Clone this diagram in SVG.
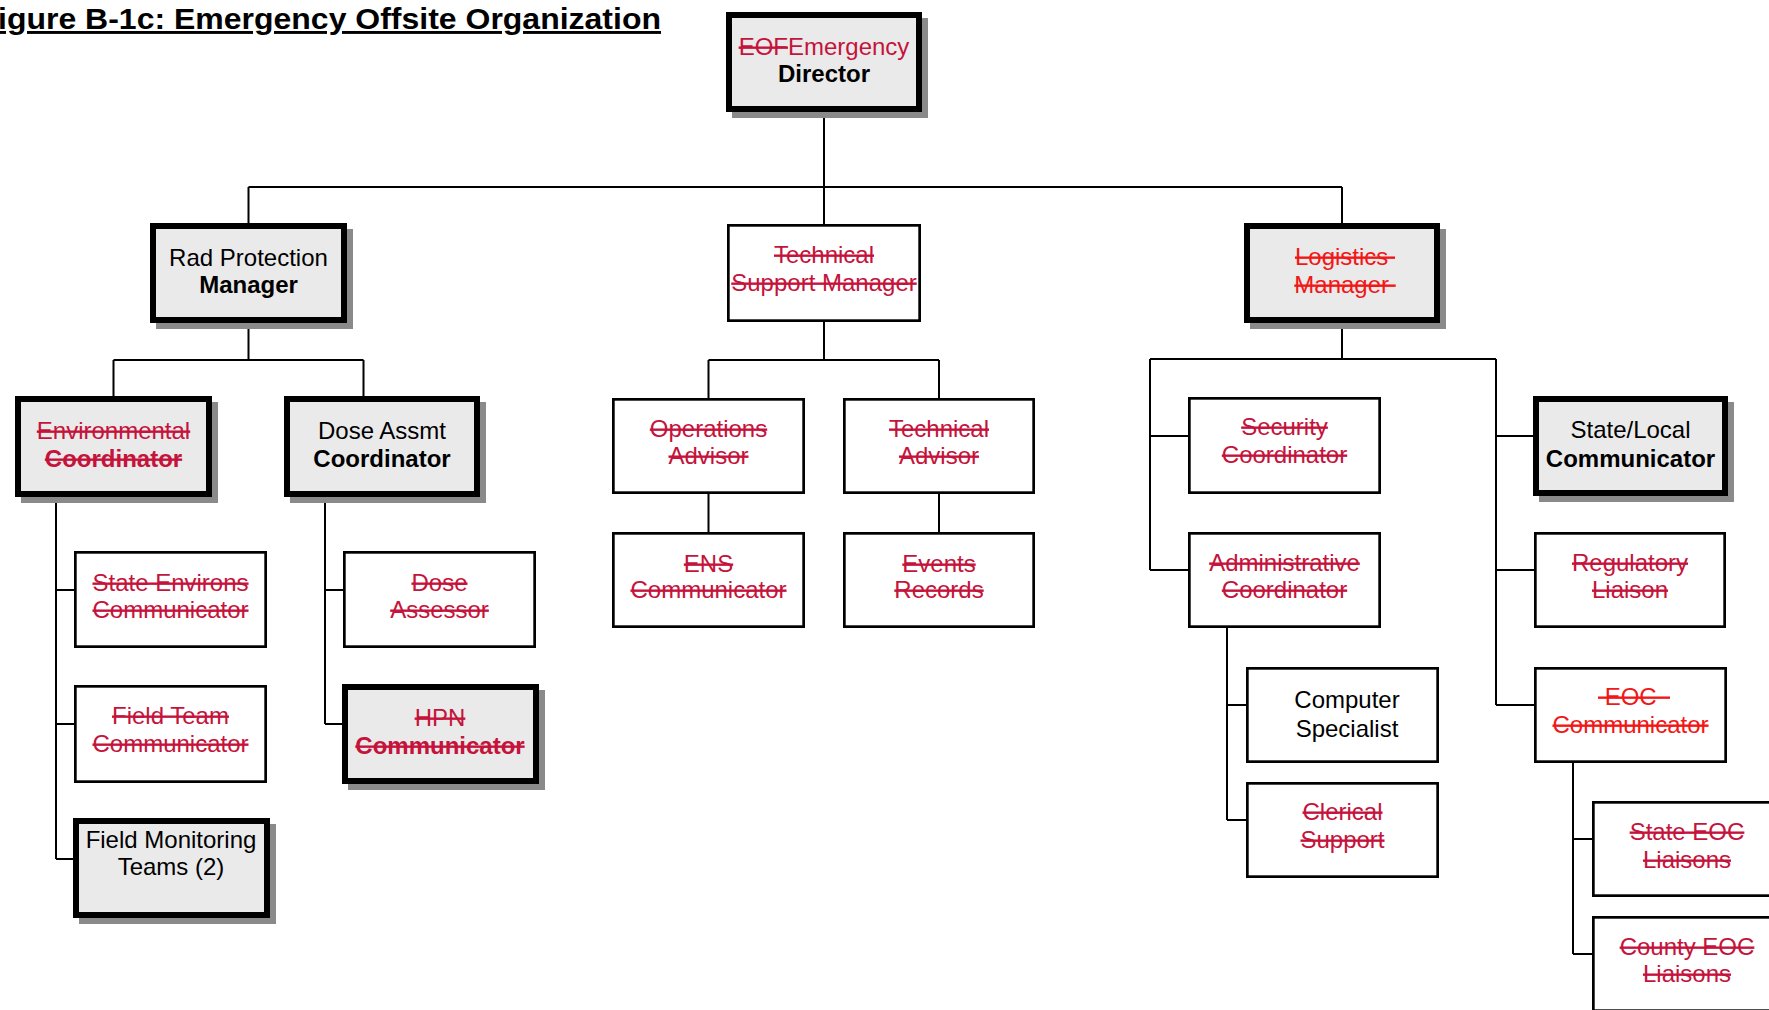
<svg xmlns="http://www.w3.org/2000/svg" width="1769" height="1010" viewBox="0 0 1769 1010">
<style>
text{font-family:"Liberation Sans",Arial,sans-serif;font-size:24px;text-anchor:middle;fill:#000}
.b{font-weight:bold}
.r{fill:#C4143C;text-decoration:line-through}
.rr{fill:#F01818;text-decoration:line-through}
.c{fill:#C4143C}
.thick{fill:#EAEAEA;stroke:#000;stroke-width:6}
.shadow{fill:#8A8A8A}
.thin{fill:#FFFFFF;stroke:#000;stroke-width:2.7}
.title{font-size:29px;font-weight:bold;text-anchor:start;text-decoration:underline;text-decoration-thickness:3.5px}
</style>
<rect width="1769" height="1010" fill="#FFFFFF"/>
<g id="title"><text class="title" x="-2" y="29" textLength="663" lengthAdjust="spacingAndGlyphs">igure B-1c: Emergency Offsite Organization</text></g>
<g id="connectors" fill="none" stroke="#000" stroke-width="2">
<path d="M824,112V224M248.5,187H1342M248.5,187V223M1342,187V223M248.5,323V360M113.5,360H363.5M113.5,360V396M363.5,360V396M56,497V859M56,590H74M56,724H74M56,859H73M325,497V724M325,590H343M325,724H342M824,322V360M708.5,360H939M708.5,360V398M939,360V398M708.5,494V532M939,494V532M1342,323V359M1150,359H1496M1150,359V570M1150,436H1188M1150,570H1188M1496,359V705M1496,436H1533M1496,570H1534M1496,705H1534M1227,628V820M1227,705H1246M1227,820H1246M1573,763V954M1573,839H1592M1573,954H1592"/>
</g>
<g id="director"><rect class="shadow" x="732" y="18" width="196" height="100"/><rect class="thick" x="729" y="15" width="190" height="94"/><text x="824" y="55"><tspan class="r">EOF</tspan><tspan class="c">Emergency</tspan></text><text class="b" x="824" y="82">Director</text></g>
<g id="rad-protection-manager"><rect class="shadow" x="156" y="229" width="197" height="100"/><rect class="thick" x="153" y="226" width="191" height="94"/><text x="248.5" y="266">Rad Protection</text><text class="b" x="248.5" y="293">Manager</text></g>
<g id="technical-support-manager"><rect class="thin" x="728.35" y="225.35" width="191.3" height="95.3"/><text class="r" x="824" y="263">Technical</text><text class="r" x="824" y="291">Support Manager</text></g>
<g id="logistics-manager"><rect class="shadow" x="1250" y="229" width="196" height="100"/><rect class="thick" x="1247" y="226" width="190" height="94"/><text class="rr" x="1345" y="265">Logistics&#160;</text><text class="rr" x="1345" y="293">Manager&#160;</text></g>
<g id="environmental-coordinator"><rect class="shadow" x="21" y="402" width="197" height="101"/><rect class="thick" x="18" y="399" width="191" height="95"/><text class="r" x="113.5" y="439">Environmental</text><text class="r b" x="113.5" y="467">Coordinator</text></g>
<g id="dose-assmt-coordinator"><rect class="shadow" x="290" y="402" width="196" height="101"/><rect class="thick" x="287" y="399" width="190" height="95"/><text x="382" y="439">Dose Assmt</text><text class="b" x="382" y="467">Coordinator</text></g>
<g id="state-environs-communicator"><rect class="thin" x="75.35" y="552.35" width="190.3" height="94.3"/><text class="r" x="170.5" y="591">State Environs</text><text class="r" x="170.5" y="618">Communicator</text></g>
<g id="field-team-communicator"><rect class="thin" x="75.35" y="686.35" width="190.3" height="95.3"/><text class="r" x="170.5" y="724">Field Team</text><text class="r" x="170.5" y="752">Communicator</text></g>
<g id="field-monitoring-teams"><rect class="shadow" x="79" y="824" width="197" height="100"/><rect class="thick" x="76" y="821" width="191" height="94"/><text x="171" y="848">Field Monitoring</text><text x="171" y="875">Teams (2)</text></g>
<g id="dose-assessor"><rect class="thin" x="344.35" y="552.35" width="190.3" height="94.3"/><text class="r" x="439.5" y="591">Dose</text><text class="r" x="439.5" y="618">Assessor</text></g>
<g id="hpn-communicator"><rect class="shadow" x="348" y="690" width="197" height="100"/><rect class="thick" x="345" y="687" width="191" height="94"/><text class="r" x="440" y="726">HPN</text><text class="r b" x="440" y="754">Communicator</text></g>
<g id="operations-advisor"><rect class="thin" x="613.35" y="399.35" width="190.3" height="93.3"/><text class="r" x="708.5" y="437">Operations</text><text class="r" x="708.5" y="464">Advisor</text></g>
<g id="technical-advisor"><rect class="thin" x="844.35" y="399.35" width="189.3" height="93.3"/><text class="r" x="939" y="437">Technical</text><text class="r" x="939" y="464">Advisor</text></g>
<g id="ens-communicator"><rect class="thin" x="613.35" y="533.35" width="190.3" height="93.3"/><text class="r" x="708.5" y="572">ENS</text><text class="r" x="708.5" y="598">Communicator</text></g>
<g id="events-records"><rect class="thin" x="844.35" y="533.35" width="189.3" height="93.3"/><text class="r" x="939" y="572">Events</text><text class="r" x="939" y="598">Records</text></g>
<g id="security-coordinator"><rect class="thin" x="1189.35" y="398.35" width="190.3" height="94.3"/><text class="r" x="1284.5" y="435">Security</text><text class="r" x="1284.5" y="463">Coordinator</text></g>
<g id="administrative-coordinator"><rect class="thin" x="1189.35" y="533.35" width="190.3" height="93.3"/><text class="r" x="1284.5" y="571">Administrative</text><text class="r" x="1284.5" y="598">Coordinator</text></g>
<g id="computer-specialist"><rect class="thin" x="1247.35" y="668.35" width="190.3" height="93.3"/><text x="1347" y="708">Computer</text><text x="1347" y="737">Specialist</text></g>
<g id="clerical-support"><rect class="thin" x="1247.35" y="783.35" width="190.3" height="93.3"/><text class="r" x="1342.5" y="820">Clerical</text><text class="r" x="1342.5" y="848">Support</text></g>
<g id="state-local-communicator"><rect class="shadow" x="1539" y="402" width="195" height="100"/><rect class="thick" x="1536" y="399" width="189" height="94"/><text x="1630.5" y="438">State/Local</text><text class="b" x="1630.5" y="467">Communicator</text></g>
<g id="regulatory-liaison"><rect class="thin" x="1535.35" y="533.35" width="189.3" height="93.3"/><text class="r" x="1630" y="571">Regulatory</text><text class="r" x="1630" y="598">Liaison</text></g>
<g id="eoc-communicator"><rect class="thin" x="1535.35" y="668.35" width="190.3" height="93.3"/><text class="rr" x="1634" y="705">&#160;EOC&#160;&#160;</text><text class="rr" x="1630.5" y="733">Communicator</text></g>
<g id="state-eoc-liaisons"><rect class="thin" x="1593.35" y="802.35" width="190.3" height="93.3"/><text class="r" x="1687" y="840">State EOC</text><text class="r" x="1687" y="868">Liaisons</text></g>
<g id="county-eoc-liaisons"><rect class="thin" x="1593.35" y="917.35" width="190.3" height="93.3"/><text class="r" x="1687" y="955">County EOC</text><text class="r" x="1687" y="982">Liaisons</text></g>
</svg>
